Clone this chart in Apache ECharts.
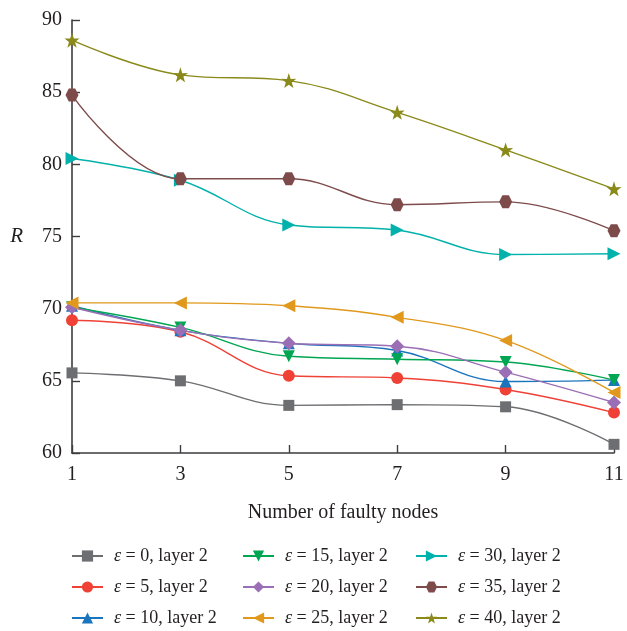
<!DOCTYPE html>
<html>
<head>
<meta charset="utf-8">
<title>R versus number of faulty nodes</title>
<script src="https://cdn.jsdelivr.net/npm/echarts@6/dist/echarts.min.js"></script>
<style>
  html, body { margin: 0; padding: 0; background: #fff; }
  #chart { width: 627px; height: 631px; }
</style>
</head>
<body>
<div id="chart"></div>
<script>
// Number of faulty nodes (x axis categories)
const faultyNodes = ['1', '3', '5', '7', '9', '11'];

// R values per epsilon setting, layer 2
const eps0  = [65.55, 65.0, 63.3, 63.35, 63.2, 60.6];
const eps5  = [69.2, 68.4, 65.35, 65.2, 64.4, 62.8];
const eps10 = [70.2, 68.5, 67.6, 67.1, 64.95, 65.05];
const eps15 = [70.1, 68.7, 66.7, 66.5, 66.3, 65.05];
const eps20 = [70.1, 68.5, 67.6, 67.4, 65.6, 63.5];
const eps25 = [70.4, 70.4, 70.2, 69.4, 67.8, 64.2];
const eps30 = [80.4, 78.9, 75.8, 75.45, 73.75, 73.8];
const eps35 = [84.8, 79.0, 79.0, 77.2, 77.4, 75.4];
const eps40 = [88.6, 86.2, 85.8, 83.6, 81.0, 78.3];

const epsValues = [0, 5, 10, 15, 20, 25, 30, 35, 40];

const starPath = 'path://M50,0 L61.8,35.1 L97.6,34.5 L69.1,56.4 L79.4,90.5 L50,70 L20.6,90.5 L30.9,56.4 L2.4,34.5 L38.2,35.1 Z';
const hexPath = 'path://M25,0 L75,0 L100,43.3 L75,86.6 L25,86.6 L0,43.3 Z';

const seriesDefs = [
  { data: eps0,  color: '#6d6e71', symbol: 'rect',     size: 11, rotate: 0 },
  { data: eps5,  color: '#ef4136', symbol: 'circle',   size: 12, rotate: 0 },
  { data: eps10, color: '#1b75bc', symbol: 'triangle', size: 12, rotate: 0 },
  { data: eps15, color: '#00a651', symbol: 'triangle', size: 12, rotate: 180 },
  { data: eps20, color: '#9b6fb5', symbol: 'diamond',  size: 14, rotate: 0 },
  { data: eps25, color: '#e0991c', symbol: 'triangle', size: 13, rotate: 90 },
  { data: eps30, color: '#00b2ab', symbol: 'triangle', size: 13, rotate: -90 },
  { data: eps35, color: '#7e4b4b', symbol: hexPath,    size: 13, rotate: 0 },
  { data: eps40, color: '#8a8a1b', symbol: starPath,   size: 15, rotate: 0 }
];

const names = epsValues.map(e => 'ε = ' + e + ', layer 2');

const series = seriesDefs.map((d, i) => ({
  name: names[i],
  type: 'line',
  data: d.data,
  smooth: 0.4,
  symbol: d.symbol,
  symbolSize: d.size,
  symbolRotate: d.rotate,
  showAllSymbol: true,
  itemStyle: { color: d.color },
  lineStyle: { color: d.color, width: 1.4 },
  emphasis: { disabled: true },
  animation: false
}));

const serif = '"Liberation Serif", "DejaVu Serif", serif';

// Legend entries sit in three columns of three, filled column by column
const legendCols = [71, 242, 415];
const legendRows = [547, 578, 609];

const legends = names.map((n, i) => ({
  left: legendCols[Math.floor(i / 3)],
  top: legendRows[i % 3],
  padding: 0,
  itemWidth: 31,
  itemHeight: 14,
  data: [n],
  formatter: name => '{s|}{e|ε}' + name.slice(1),
  textStyle: {
    fontFamily: serif,
    fontSize: 18,
    color: '#231f20',
    lineHeight: 16,
    rich: {
      s: { width: 6 },
      e: { fontFamily: serif, fontStyle: 'italic', fontSize: 18, color: '#231f20' }
    }
  }
}));

const chart = echarts.init(document.getElementById('chart'), null, { renderer: 'canvas' });
chart.setOption({
  animation: false,
  backgroundColor: '#ffffff',
  grid: { left: 72, right: 13, top: 20, bottom: 178, containLabel: false },
  legend: legends,
  xAxis: {
    type: 'category',
    data: faultyNodes,
    boundaryGap: false,
    name: 'Number of faulty nodes',
    nameLocation: 'middle',
    nameGap: 50,
    nameTextStyle: { fontFamily: serif, fontSize: 20, color: '#231f20' },
    axisLine: { lineStyle: { color: '#3d3d3f', width: 1.6 } },
    axisTick: { inside: true, length: 8, alignWithLabel: true, lineStyle: { color: '#3d3d3f', width: 1.4 } },
    axisLabel: { fontFamily: serif, fontSize: 20, color: '#231f20', margin: 12 },
    splitLine: { show: false }
  },
  yAxis: {
    type: 'value',
    min: 60,
    max: 90,
    interval: 5,
    name: 'R',
    nameLocation: 'middle',
    nameRotate: 0,
    nameGap: 49,
    nameTextStyle: { fontFamily: serif, fontSize: 21, fontStyle: 'italic', color: '#231f20' },
    axisLine: { show: true, lineStyle: { color: '#3d3d3f', width: 1.6 } },
    axisTick: { show: true, inside: true, length: 8, lineStyle: { color: '#3d3d3f', width: 1.4 } },
    axisLabel: { fontFamily: serif, fontSize: 20, color: '#231f20', margin: 10 },
    splitLine: { show: false }
  },
  series: series
});
</script>
</body>
</html>
